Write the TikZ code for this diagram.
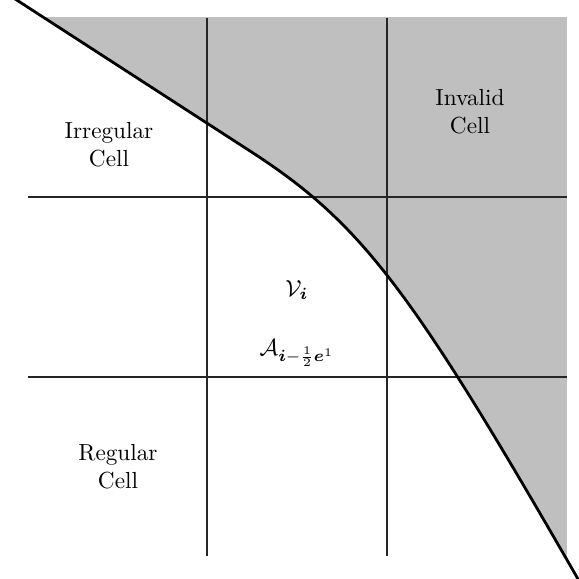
\documentclass[tikz,border=0pt]{standalone}
\usepackage{amsmath,amssymb}
\begin{document}
\begin{tikzpicture}[x=0.43pt,y=-0.43pt]
\tikzset{
  gridline/.style={line width=0.75pt, black!85},
  bound/.style={line width=1.2pt, black},
  lbl/.style={align=center, inner sep=0pt},
}
\useasboundingbox (0,0) rectangle (579,579);
\def\bcurve{(0,-10.8) -- (250,151) .. controls (360.9,222.6) and (410.6,287.9) .. (578,579) -- (586,593)}
\begin{scope}
  \clip (0,17) rectangle (567,600);
  \fill[lightgray] \bcurve -- (700,593) -- (700,-50) -- (0,-50) -- cycle;
\end{scope}
\coordinate (v1t) at (207,18); \coordinate (v1b) at (207,556);
\coordinate (v2t) at (387,18); \coordinate (v2b) at (387,556);
\coordinate (h1l) at (28,197); \coordinate (h1r) at (567,197);
\coordinate (h2l) at (28,377); \coordinate (h2r) at (567,377);
\draw[gridline] (v1t) -- (v1b);
\draw[gridline] (v2t) -- (v2b);
\draw[gridline] (h1l) -- (h1r);
\draw[gridline] (h2l) -- (h2r);
\begin{scope}
  \clip (0,0) rectangle (579,579);
  \draw[bound] \bcurve;
\end{scope}
\node[lbl] (irr) at (109,145) {Irregular\\Cell};
\node[lbl] (inv) at (470,112) {Invalid\\Cell};
\node[lbl] (reg) at (118,467) {Regular\\Cell};
\node (vi) at (297,290) {$\mathcal{V}_{\boldsymbol{i}}$};
\node (ai) at (297,353) {$\mathcal{A}_{\boldsymbol{i}-\frac{1}{2}\boldsymbol{e}^1}$};
\end{tikzpicture}
\end{document}
